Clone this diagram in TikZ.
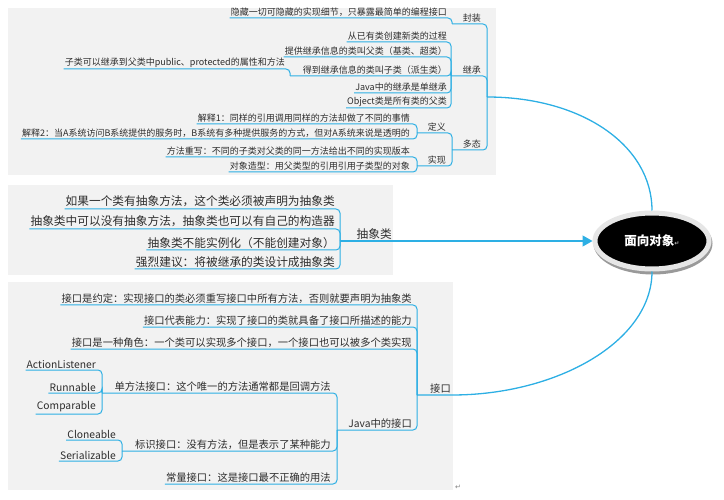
\documentclass[tikz,border=0pt]{standalone}
\usepackage{fontspec}
\setmainfont{Noto Sans CJK SC}
\newfontfamily\symfont{DejaVu Sans}
\usetikzlibrary{arrows.meta, shapes.geometric, positioning}
\newcommand{\fsA}{\fontsize{9}{10}\selectfont}
\newcommand{\fsB}{\fontsize{11.7}{13}\selectfont}
\newcommand{\fsC}{\fontsize{10.3}{12}\selectfont}
\definecolor{MapLine}{RGB}{45,175,228}
\definecolor{MapInk}{RGB}{45,45,45}
\definecolor{MapPanel}{RGB}{242,242,242}
\definecolor{MapRing}{RGB}{230,230,230}

\begin{document}
\begin{tikzpicture}[
      x=1pt, y=-1pt,
      topic/.style={anchor=south east, inner xsep=1pt, inner ysep=1.6pt, text=MapInk},
      sm/.style={topic, font=\fsA},
      lg/.style={topic, font=\fsB},
      md/.style={topic, font=\fsC},
      branch/.style={draw=MapLine, line width=1pt, rounded corners=4pt},
      flow/.style={draw=MapLine, line width=1.3pt},
      panel/.style={fill=MapPanel},
      core/.style={ellipse, fill=black, draw=MapRing, line width=5pt,
                   minimum width=114pt, minimum height=56pt, text=white,
                   font=\fontsize{12.5}{14}\selectfont\bfseries},
    ]
      \useasboundingbox (0,0) rectangle (724,500);
      \fill[panel] (8,8) rectangle (496,175);
      \fill[panel] (8,185) rectangle (393,275);
      \fill[panel] (8,282) rectangle (453,490);

      % centre
      \fill[black!40] (653,243.5) ellipse [x radius=59.5pt, y radius=31pt];
      \node[core] (oop) at (652,241) {面向对象{\symfont\fontsize{6}{6}\selectfont\color{MapRing!80!black}↵}};

      % encapsulation / inheritance / polymorphism
      \coordinate (top-b) at (487,97);
      \node[sm] (fz) at (482,24) {封装};
      \coordinate (fz-b) at (452,24);
      \node[sm] (fz1) at (448,18) {隐藏一切可隐藏的实现细节，只暴露最简单的编程接口};

      \node[sm] (jc) at (482,76) {继承};
      \coordinate (jc-b) at (451,76);
      \node[sm] (jc1) at (448,42) {从已有类创建新类的过程};
      \node[sm] (jc2) at (448,57) {提供继承信息的类叫父类（基类、超类）};
      \node[sm] (jc3) at (448,76) {得到继承信息的类叫子类（派生类）};
      \coordinate (jc3-b) at (290,76);
      \node[sm] (jc31) at (286,69) {子类可以继承到父类中public、protected的属性和方法};
      \node[sm] (jc4) at (448,93) {Java中的继承是单继承};
      \node[sm] (jc5) at (448,108) {Object类是所有类的父类};

      \node[sm] (dt) at (482,150) {多态};
      \coordinate (dt-b) at (452,150);
      \node[sm] (dy) at (447,133) {定义};
      \coordinate (dy-b) at (417,133);
      \node[sm] (dy1) at (411,124) {解释1：同样的引用调用同样的方法却做了不同的事情};
      \node[sm] (dy2) at (411,139) {解释2：当A系统访问B系统提供的服务时，B系统有多种提供服务的方式，但对A系统来说是透明的};
      \node[sm] (sx) at (447,166) {实现};
      \coordinate (sx-b) at (417,166);
      \node[sm] (sx1) at (411,157) {方法重写：不同的子类对父类的同一方法给出不同的实现版本};
      \node[sm] (sx2) at (411,172) {对象造型：用父类型的引用引用子类型的对象};

      % abstract classes
      \node[lg] (cx) at (393,241) {抽象类};
      \coordinate (cx-b) at (340,241);
      \node[lg] (cx1) at (336,209) {如果一个类有抽象方法，这个类必须被声明为抽象类};
      \node[lg] (cx2) at (336,229) {抽象类中可以没有抽象方法，抽象类也可以有自己的构造器};
      \node[lg] (cx3) at (336,250) {抽象类不能实例化（不能创建对象）};
      \node[lg] (cx4) at (336,269) {强烈建议：将被继承的类设计成抽象类};

      % interfaces
      \node[md] (jk) at (452,395) {接口};
      \coordinate (jk-b) at (417,395);
      \node[md] (jk1) at (413,305) {接口是约定：实现接口的类必须重写接口中所有方法，否则就要声明为抽象类};
      \node[md] (jk2) at (413,327) {接口代表能力：实现了接口的类就具备了接口所描述的能力};
      \node[md] (jk3) at (413,349) {接口是一种角色：一个类可以实现多个接口，一个接口也可以被多个类实现};
      \node[md] (jv) at (413,430) {Java中的接口};
      \coordinate (jv-b) at (337,430);
      \node[md] (df) at (332,393) {单方法接口：这个唯一的方法通常都是回调方法};
      \coordinate (df-b) at (102,393);
      \node[md] (df1) at (97,370) {ActionListener};
      \node[md] (df2) at (97,393) {Runnable};
      \node[md] (df3) at (97,414) {Comparable};
      \node[md] (bs) at (332,451) {标识接口：没有方法，但是表示了某种能力};
      \coordinate (bs-b) at (122,451);
      \node[md] (bs1) at (117,440) {Cloneable};
      \node[md] (bs2) at (117,461) {Serializable};
      \node[md] (cl) at (332,484) {常量接口：这是接口最不正确的用法};

      \node[text=gray, font=\symfont\fontsize{7}{7}\selectfont] (endmark) at (458,487) {↵};

      % underlines and brackets
      \foreach \c in {fz-b, jc-b, dt-b}
        \draw[branch] (\c) -| (top-b);
      \draw[branch] (fz1.south west) -| (fz-b);
      \foreach \c in {jc1.south west, jc2.south west, jc3-b, jc4.south west, jc5.south west}
        \draw[branch] (\c) -| (jc-b);
      \draw[branch] (jc31.south west) -| (jc3-b);
      \foreach \c in {dy-b, sx-b}
        \draw[branch] (\c) -| (dt-b);
      \foreach \c in {dy1, dy2}
        \draw[branch] (\c.south west) -| (dy-b);
      \foreach \c in {sx1, sx2}
        \draw[branch] (\c.south west) -| (sx-b);
      \foreach \c in {cx1, cx2, cx3, cx4}
        \draw[branch] (\c.south west) -| (cx-b);
      \foreach \c in {jk1.south west, jk2.south west, jk3.south west, jv-b}
        \draw[branch] (\c) -| (jk-b);
      \foreach \c in {df-b, bs-b, cl.south west}
        \draw[branch] (\c) -| (jv-b);
      \foreach \c in {df1, df2, df3}
        \draw[branch] (\c.south west) -| (df-b);
      \foreach \c in {bs1, bs2}
        \draw[branch] (\c.south west) -| (bs-b);

      % links to the centre
      \draw[flow] (top-b) .. controls +(95,0) and +(0,-65) .. (oop.north);
      \draw[flow, -{Triangle[length=10pt, width=11pt]}] (cx-b) -- (oop.west);
      \draw[flow] (jk-b) -- (jk.south east) .. controls +(105,0) and +(0,70) .. (oop.south);
    \end{tikzpicture}
\end{document}
